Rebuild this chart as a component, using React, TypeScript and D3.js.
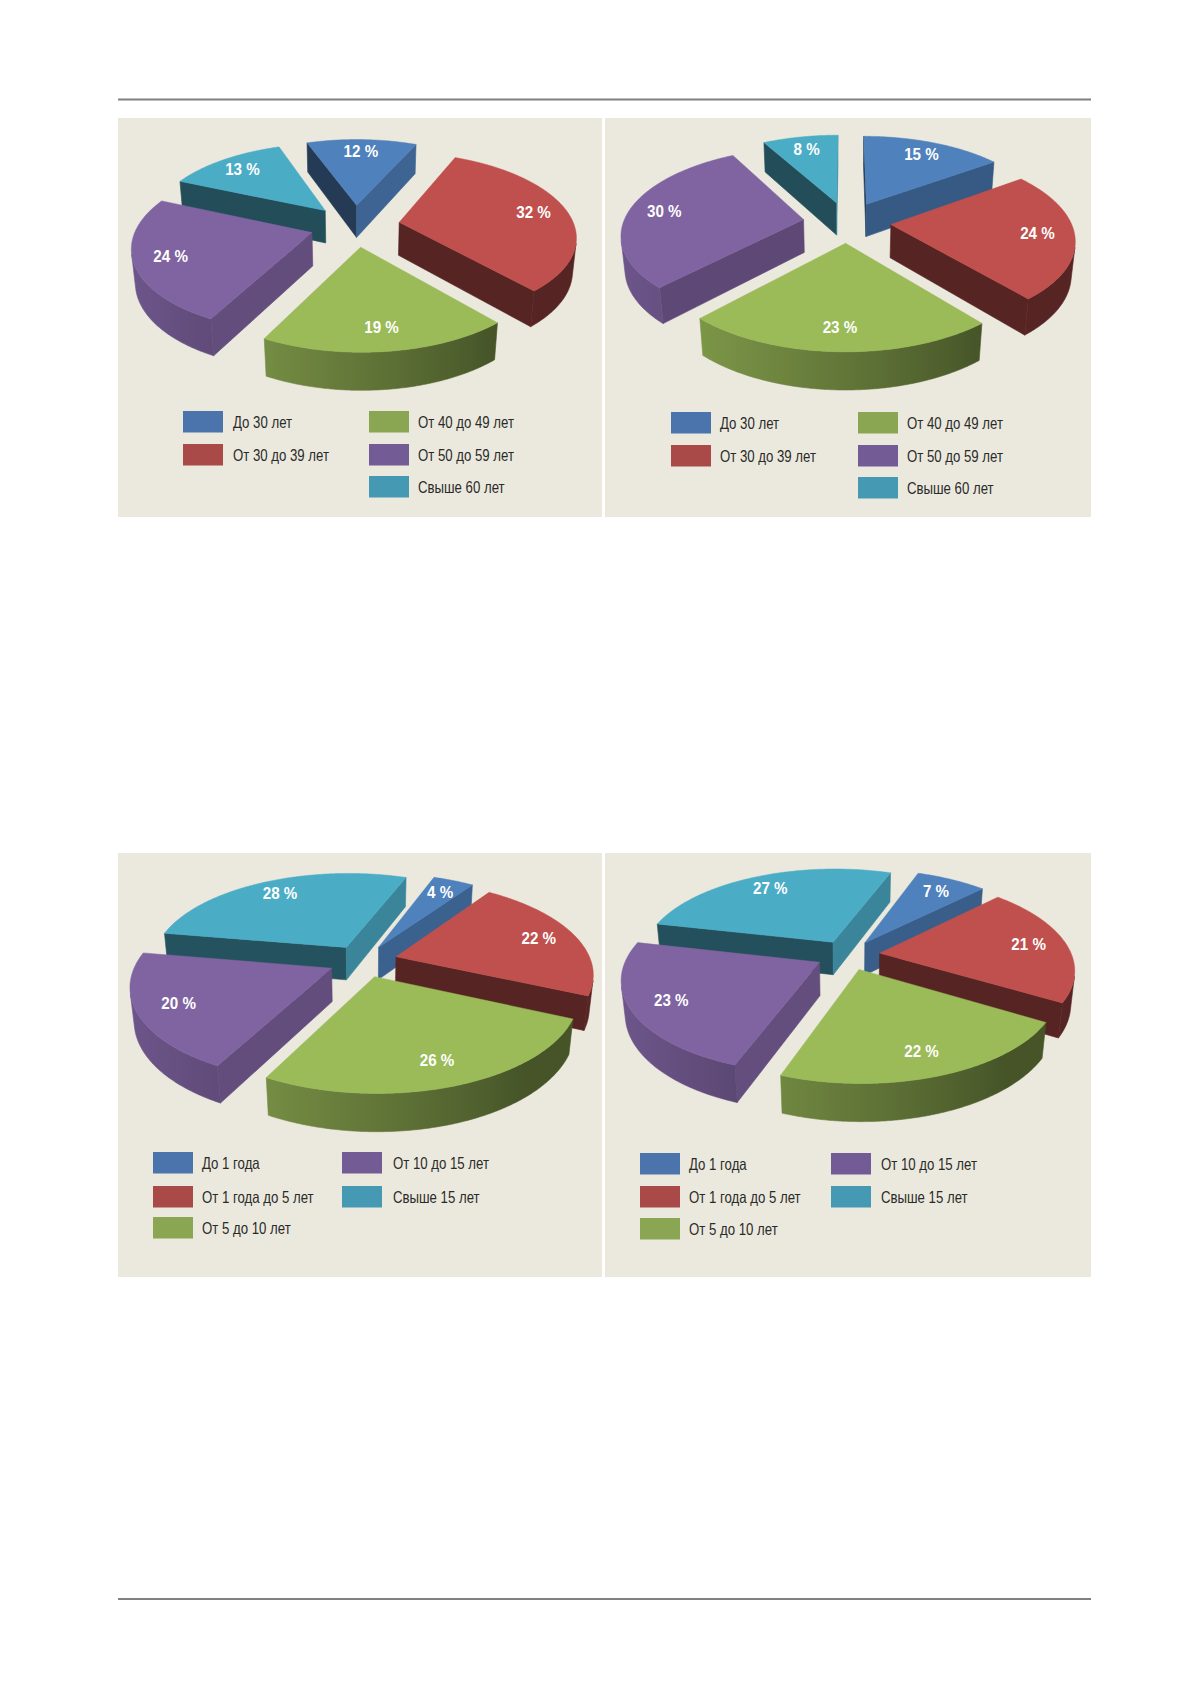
import React from "react";
import * as d3 from "d3";

// ---------- data ----------
const ageCategories = ["До 30 лет", "От 30 до 39 лет", "От 40 до 49 лет", "От 50 до 59 лет", "Свыше 60 лет"];
const ageSharesLeft = [12, 32, 19, 24, 13];
const ageSharesRight = [15, 24, 23, 30, 8];
const tenureCategories = ["До 1 года", "От 1 года до 5 лет", "От 5 до 10 лет", "От 10 до 15 лет", "Свыше 15 лет"];
const tenureSharesLeft = [4, 22, 26, 20, 28];
const tenureSharesRight = [7, 21, 22, 23, 27];

// ---------- styles ----------
const topColors = ["#4f81bd", "#c0504d", "#9bbb59", "#8064a2", "#4bacc6"];
const legendColors = ["#4a74ab", "#aa4a48", "#8aa653", "#735b95", "#4699b3"];
const panelFill = "#ebe9dd";

// perspective camera
const CAM = 1011;
const SINP = 0.466;
const COSP = 0.885;
const THICK = 38;

type Pt = [number, number];

function proj(cx: number, cy: number, X: number, Y: number, Z: number): Pt {
  const sy = -Y * SINP + Z * COSP;
  const dep = CAM - Y * COSP - Z * SINP;
  return [cx + (CAM * X) / dep, cy - (CAM * sy) / dep];
}

const shade = (hex: string, b: number) => {
  const c = d3.rgb(hex);
  return d3.rgb(c.r * b, c.g * b, c.b * b).formatHex();
};
const rad = Math.PI / 180;
const wallB = (t: number) => Math.max(0.45, 0.585 + 0.27 * Math.cos(t - 260 * rad));
const cutB = (t: number) => Math.max(0.45, 0.48 + 0.3 * Math.cos(t - 100 * rad));

const polygon = d3.line<Pt>().curve(d3.curveLinearClosed);

type LegendCol = { sx: number; tx: number; items: number[] };
type ChartCfg = {
  key: string;
  values: number[];
  labels: string[];
  startDeg: number;
  cx: number;
  cy: number;
  R: number;
  explode: number;
  panel: { x: number; y: number; w: number; h: number };
  cols: LegendCol[];
  rows: number[];
};

const charts: ChartCfg[] = [
  {
    key: "a", values: ageSharesLeft, labels: ageCategories, startDeg: -19.5,
    cx: 355, cy: 225.5, R: 175, explode: 45,
    panel: { x: 118, y: 118, w: 484, h: 399 },
    cols: [{ sx: 183, tx: 233, items: [0, 1] }, { sx: 369, tx: 418, items: [2, 3, 4] }],
    rows: [411, 444, 476],
  },
  {
    key: "b", values: ageSharesRight, labels: ageCategories, startDeg: 0,
    cx: 847, cy: 222, R: 180, explode: 44,
    panel: { x: 605, y: 118, w: 486, h: 399 },
    cols: [{ sx: 671, tx: 720, items: [0, 1] }, { sx: 858, tx: 907, items: [2, 3, 4] }],
    rows: [412, 445, 477],
  },
  {
    key: "c", values: tenureSharesLeft, labels: tenureCategories, startDeg: 20.5,
    cx: 363, cy: 961, R: 195, explode: 34.5,
    panel: { x: 118, y: 853, w: 484, h: 424 },
    cols: [{ sx: 153, tx: 202, items: [0, 1, 2] }, { sx: 342, tx: 393, items: [3, 4] }],
    rows: [1152, 1186, 1217],
  },
  {
    key: "d", values: tenureSharesRight, labels: tenureCategories, startDeg: 20,
    cx: 848, cy: 955, R: 192, explode: 32,
    panel: { x: 605, y: 853, w: 486, h: 424 },
    cols: [{ sx: 640, tx: 689, items: [0, 1, 2] }, { sx: 831, tx: 881, items: [3, 4] }],
    rows: [1153, 1186, 1218],
  },
];

function Pie3D({ cfg }: { cfg: ChartCfg }) {
  const s0 = cfg.startDeg * rad;
  const arcs = d3.pie<number>().sort(null).value((d) => d).startAngle(s0).endAngle(s0 + 2 * Math.PI)(cfg.values);
  const camY = CAM * COSP;
  const P = (X: number, Y: number, Z: number) => proj(cfg.cx, cfg.cy, X, Y, Z);

  const slices = arcs.map((a, i) => {
    const color = topColors[i];
    const a0 = a.startAngle;
    const a1 = a.endAngle;
    const mid = (a0 + a1) / 2;
    const ex = cfg.explode * Math.sin(mid);
    const ey = -cfg.explode * Math.cos(mid);
    const n = Math.max(6, Math.ceil((a1 - a0) / (0.5 * rad)));
    const thetas = d3.range(n + 1).map((k) => a0 + ((a1 - a0) * k) / n);
    const world = thetas.map((t) => [ex + cfg.R * Math.sin(t), ey - cfg.R * Math.cos(t)] as Pt);
    const topPts = world.map(([X, Y]) => P(X, Y, 0));
    const botPts = world.map(([X, Y]) => P(X, Y, -THICK));
    const Et = P(ex, ey, 0);
    const Eb = P(ex, ey, -THICK);

    const faces: { pts: Pt[]; fill: string; grad?: { id: string; x1: number; x2: number; stops: { o: number; c: string }[] } }[] = [];

    // cut faces
    const v0 = -Math.cos(a0) * (0 - ex) - Math.sin(a0) * (camY - ey);
    if (v0 > 0) faces.push({ pts: [Et, topPts[0], botPts[0], Eb], fill: shade(color, cutB(a0 - Math.PI / 2)) });
    const v1 = Math.cos(a1) * (0 - ex) + Math.sin(a1) * (camY - ey);
    if (v1 > 0) faces.push({ pts: [Et, topPts[n], botPts[n], Eb], fill: shade(color, cutB(a1 + Math.PI / 2)) });

    // outer wall runs
    const vis = thetas.map((t, k) => {
      const [X, Y] = world[k];
      return Math.sin(t) * (-X) - Math.cos(t) * (camY - Y) > 0;
    });
    let k = 0;
    let runIdx = 0;
    while (k <= n) {
      if (!vis[k]) { k++; continue; }
      const st = k;
      while (k <= n && vis[k]) k++;
      const en = k - 1;
      if (en - st < 1) continue;
      const idx = d3.range(st, en + 1);
      const pts: Pt[] = [...idx.map((j) => topPts[j]), ...idx.slice().reverse().map((j) => botPts[j])];
      const xs = idx.map((j) => topPts[j][0]);
      const x1 = d3.min(xs) as number;
      const x2 = d3.max(xs) as number;
      const stops = idx
        .map((j) => ({ o: x2 > x1 ? (topPts[j][0] - x1) / (x2 - x1) : 0, c: shade(color, wallB(thetas[j])) }))
        .sort((p, q) => p.o - q.o)
        .filter((_, m) => m % 4 === 0 || m === idx.length - 1);
      const id = `g-${cfg.key}-${i}-${runIdx++}`;
      faces.push({ pts, fill: `url(#${id})`, grad: { id, x1, x2, stops } });
    }

    const lr = cfg.R * 0.8;
    const lp = P(ex + lr * Math.sin(mid), ey - lr * Math.cos(mid), 0);
    const depthKey = ey - 0.5 * cfg.R * Math.cos(mid);
    return { i, color, faces, topFace: [Et, ...topPts] as Pt[], lp, depthKey, value: a.data };
  });

  const ordered = slices.slice().sort((p, q) => p.depthKey - q.depthKey);

  return (
    <g>
      <defs>
        {slices.flatMap((s) =>
          s.faces.filter((f) => f.grad).map((f) => (
            <linearGradient key={f.grad!.id} id={f.grad!.id} gradientUnits="userSpaceOnUse" x1={f.grad!.x1} x2={f.grad!.x2} y1={0} y2={0}>
              {f.grad!.stops.map((st, m) => (
                <stop key={m} offset={st.o} stopColor={st.c} />
              ))}
            </linearGradient>
          ))
        )}
      </defs>
      {ordered.map((s) => (
        <g key={s.i}>
          {s.faces.map((f, m) => (
            <path key={m} d={polygon(f.pts) as string} fill={f.fill} stroke={f.fill} strokeWidth={0.6} strokeLinejoin="round" />
          ))}
          <path d={polygon(s.topFace) as string} fill={s.color} stroke={s.color} strokeWidth={0.5} strokeLinejoin="round" />
        </g>
      ))}
      {slices.map((s) => (
        <text
          key={`l${s.i}`}
          transform={`translate(${s.lp[0]},${s.lp[1]}) scale(0.92,1)`}
          textAnchor="middle"
          dominantBaseline="central"
          fill="#ffffff"
          fontFamily="'Liberation Sans', Arial, sans-serif"
          fontWeight="bold"
          fontSize={16.5}
        >
          {`${s.value} %`}
        </text>
      ))}
    </g>
  );
}

function Legend({ cfg }: { cfg: ChartCfg }) {
  return (
    <g>
      {cfg.cols.flatMap((col) =>
        col.items.map((item, r) => (
          <g key={`${col.sx}-${item}`}>
            <rect x={col.sx} y={cfg.rows[r]} width={40} height={21.5} fill={legendColors[item]} />
            <text
              transform={`translate(${col.tx},${cfg.rows[r] + 10.75 + 5.9}) scale(0.8,1)`}
              fill="#2a2a2a"
              fontFamily="'Liberation Sans', Arial, sans-serif"
              fontSize={16.5}
            >
              {cfg.labels[item]}
            </text>
          </g>
        ))
      )}
    </g>
  );
}

export default function App() {
  return (
    <svg
      width={1179}
      height={1681}
      viewBox="0 0 1179 1681"
      style={{ position: "absolute", left: 0, top: 0, background: "#ffffff" }}
    >
      <rect x={0} y={0} width={1179} height={1681} fill="#ffffff" />
      <line x1={118} x2={1091} y1={99.5} y2={99.5} stroke="#808080" strokeWidth={1.8} />
      <line x1={118} x2={1091} y1={1599} y2={1599} stroke="#808080" strokeWidth={1.8} />
      {charts.map((c) => (
        <rect key={`p${c.key}`} x={c.panel.x} y={c.panel.y} width={c.panel.w} height={c.panel.h} fill={panelFill} />
      ))}
      {charts.map((c) => (
        <g key={c.key}>
          <Pie3D cfg={c} />
          <Legend cfg={c} />
        </g>
      ))}
    </svg>
  );
}
